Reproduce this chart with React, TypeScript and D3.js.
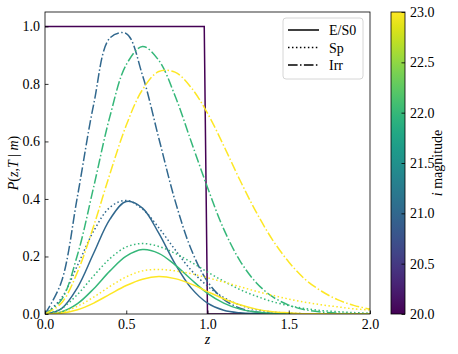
import React, { useRef, useEffect } from "react";
import * as d3 from "d3";

// redshift grid shared by every curve
const zGrid = [0, 0.1, 0.2, 0.3, 0.4, 0.5, 0.6, 0.7, 0.8, 0.9, 1.0, 1.1, 1.2, 1.3, 1.4, 1.5, 1.6, 1.7, 1.8, 1.9, 2.0];

// E/S0 (solid)
const esoM21 = [0, 0.018, 0.092, 0.212, 0.33, 0.391, 0.368, 0.281, 0.175, 0.09, 0.038, 0.013, 0.004, 0.001, 0, 0, 0, 0, 0, 0, 0];
const esoM22 = [0, 0.007, 0.036, 0.088, 0.15, 0.201, 0.224, 0.211, 0.171, 0.12, 0.072, 0.038, 0.017, 0.007, 0.002, 0.001, 0, 0, 0, 0, 0];
const esoM23 = [0, 0.003, 0.015, 0.038, 0.069, 0.099, 0.121, 0.13, 0.123, 0.104, 0.078, 0.053, 0.032, 0.017, 0.008, 0.004, 0.001, 0.0005, 0, 0, 0];
// Sp (dotted)
const spM21 = [0, 0.054, 0.169, 0.289, 0.371, 0.395, 0.365, 0.3, 0.224, 0.152, 0.097, 0.057, 0.031, 0.015, 0.007, 0.003, 0.001, 0.0005, 0, 0, 0];
const spM22 = [0, 0.019, 0.068, 0.133, 0.193, 0.233, 0.245, 0.235, 0.211, 0.18, 0.146, 0.114, 0.085, 0.062, 0.043, 0.029, 0.019, 0.012, 0.008, 0.005, 0.003];
const spM23 = [0, 0.006, 0.027, 0.059, 0.096, 0.129, 0.15, 0.155, 0.15, 0.14, 0.126, 0.111, 0.095, 0.079, 0.065, 0.052, 0.041, 0.032, 0.025, 0.018, 0.014];
// Irr (dash-dot)
const irrM21 = [0, 0.11, 0.41, 0.73, 0.96, 0.975, 0.83, 0.612, 0.395, 0.224, 0.113, 0.051, 0.02, 0.007, 0.002, 0.001, 0, 0, 0, 0, 0];
const irrM22 = [0, 0.048, 0.206, 0.443, 0.688, 0.867, 0.93, 0.882, 0.759, 0.599, 0.44, 0.295, 0.185, 0.109, 0.06, 0.031, 0.015, 0.007, 0.003, 0.001, 0.0004];
const irrM23 = [0, 0.037, 0.146, 0.307, 0.488, 0.656, 0.78, 0.843, 0.841, 0.787, 0.698, 0.585, 0.465, 0.354, 0.258, 0.181, 0.121, 0.08, 0.05, 0.03, 0.017];

// m = 20: step
const stepZ = [0, 0.98, 1.0, 2.0];
const stepP = [1, 1, 0, 0];

const xTicks = [0, 0.5, 1.0, 1.5, 2.0];
const yTicks = [0, 0.2, 0.4, 0.6, 0.8, 1.0];
const magTicks = [20, 20.5, 21, 21.5, 22, 22.5, 23];
const types = ["E/S0", "Sp", "Irr"];

const dashes = { "E/S0": null, Sp: "1.5,2.475", Irr: "9.6,2.4,1.5,2.4" };

const series = [
  { mag: 21, type: "E/S0", values: esoM21 },
  { mag: 21, type: "Sp", values: spM21 },
  { mag: 21, type: "Irr", values: irrM21 },
  { mag: 22, type: "E/S0", values: esoM22 },
  { mag: 22, type: "Sp", values: spM22 },
  { mag: 22, type: "Irr", values: irrM22 },
  { mag: 23, type: "E/S0", values: esoM23 },
  { mag: 23, type: "Sp", values: spM23 },
  { mag: 23, type: "Irr", values: irrM23 },
];

const W = 458;
const H = 354;
const margin = { left: 45, top: 12, right: 88, bottom: 40 };
const width = 370 - margin.left;
const height = 314 - margin.top;
const cbar = { x: 391, w: 14 };
const FONT = "'Liberation Serif', 'Times New Roman', serif";

export default function App() {
  const xAxisRef = useRef(null);
  const yAxisRef = useRef(null);
  const cAxisRef = useRef(null);

  const xScale = d3.scaleLinear().domain([0, 2]).range([0, width]);
  const yScale = d3.scaleLinear().domain([0, 1.05]).range([height, 0]);
  const cScale = d3.scaleLinear().domain([20, 23]).range([height, 0]);
  const color = d3.scaleSequential(d3.interpolateViridis).domain([20, 23]);

  const line = d3
    .line()
    .x((d) => xScale(d[0]))
    .y((d) => yScale(d[1]))
    .curve(d3.curveCatmullRom.alpha(0.5));

  const stepLine = d3
    .line()
    .x((d) => xScale(d[0]))
    .y((d) => yScale(d[1]));

  useEffect(() => {
    const fmt = d3.format(".1f");
    const xa = d3.axisBottom(xScale).tickValues(xTicks).tickFormat(fmt).tickSize(-3.5).tickPadding(4.9);
    const ya = d3.axisLeft(yScale).tickValues(yTicks).tickFormat(fmt).tickSize(-3.5).tickPadding(4.9);
    const ca = d3.axisRight(cScale).tickValues(magTicks).tickFormat(fmt).tickSize(-3.5).tickPadding(4.9);
    [
      [xAxisRef, xa],
      [yAxisRef, ya],
      [cAxisRef, ca],
    ].forEach(([ref, ax]) => {
      const g = d3.select(ref.current);
      g.call(ax);
      g.select(".domain").remove();
      g.selectAll("line").attr("stroke", "#000").attr("stroke-width", 0.8);
      g.selectAll("text").attr("fill", "#000").style("font-family", FONT).style("font-size", "14px");
    });
  }, []);

  const gradStops = d3.range(0, 1.0001, 0.05);

  return (
    <svg width={W} height={H} style={{ position: "absolute", left: 0, top: 0, background: "#fff" }}>
      <defs>
        <clipPath id="plotClip">
          <rect x={0} y={0} width={width} height={height} />
        </clipPath>
        <linearGradient id="viridisGrad" x1="0" y1="1" x2="0" y2="0">
          {gradStops.map((t) => (
            <stop key={t} offset={t} stopColor={d3.interpolateViridis(t)} />
          ))}
        </linearGradient>
      </defs>

      <g transform={`translate(${margin.left},${margin.top})`}>
        <g clipPath="url(#plotClip)">
          <path
            d={stepLine(stepZ.map((z, i) => [z, stepP[i]]))}
            fill="none"
            stroke={color(20)}
            strokeWidth={1.5}
          />
          {series.map((s, i) => (
            <path
              key={i}
              d={line(zGrid.map((z, j) => [z, s.values[j]]))}
              fill="none"
              stroke={color(s.mag)}
              strokeWidth={1.5}
              strokeDasharray={dashes[s.type] || undefined}
            />
          ))}
        </g>
        <rect x={0} y={0} width={width} height={height} fill="none" stroke="#000" strokeWidth={0.8} />
        <g ref={xAxisRef} transform={`translate(0,${height})`} />
        <g ref={yAxisRef} />

        {/* legend */}
        <g transform="translate(238,6)">
          <rect x={0} y={0} width={80} height={61} rx={3} fill="#fff" fillOpacity={0.8} stroke="#cccccc" strokeWidth={0.8} />
          {types.map((t, i) => (
            <g key={t} transform={`translate(0,${12 + i * 17.5})`}>
              <line x1={5} x2={36} y1={0} y2={0} stroke="#000" strokeWidth={1.5} strokeDasharray={dashes[t] || undefined} />
              <text x={46} y={5} fontSize={14} fontFamily={FONT} fill="#000">
                {t}
              </text>
            </g>
          ))}
        </g>

        <text x={width / 2} y={height + 30} textAnchor="middle" fontSize={14} fontFamily={FONT} fontStyle="italic">
          z
        </text>
        <text
          transform={`translate(${-27},${height / 2}) rotate(-90)`}
          textAnchor="middle"
          fontSize={14}
          fontFamily={FONT}
        >
          <tspan fontStyle="italic">P</tspan>(<tspan fontStyle="italic">z</tspan>,<tspan fontStyle="italic">T</tspan> | <tspan fontStyle="italic">m</tspan>)
        </text>
      </g>

      {/* colorbar */}
      <g transform={`translate(${cbar.x},${margin.top})`}>
        <rect x={0} y={0} width={cbar.w} height={height} fill="url(#viridisGrad)" />
        <rect x={0} y={0} width={cbar.w} height={height} fill="none" stroke="#000" strokeWidth={0.8} />
        <g ref={cAxisRef} transform={`translate(${cbar.w},0)`} />
        <text
          transform={`translate(${51},${height / 2}) rotate(-90)`}
          textAnchor="middle"
          fontSize={14}
          fontFamily={FONT}
        >
          <tspan fontStyle="italic">i</tspan> magnitude
        </text>
      </g>
    </svg>
  );
}
